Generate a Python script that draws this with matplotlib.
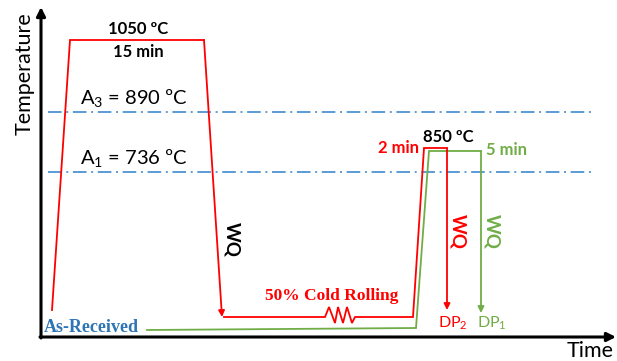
import matplotlib
matplotlib.use("Agg")
import matplotlib.pyplot as plt

plt.rcParams['font.family'] = ['Lato', 'DejaVu Sans']
plt.rcParams['mathtext.fontset'] = 'custom'
plt.rcParams['mathtext.rm'] = 'Lato'
plt.rcParams['mathtext.bf'] = 'Lato:bold'
plt.rcParams['mathtext.it'] = 'Lato:italic'

# Schematic data (time units, temperature level units)
# Red route: solution treatment -> WQ -> cold rolling -> 850 C 2 min -> WQ (DP2)
red_st_time = [52, 70, 204, 222]
red_st_temp = [51, 321, 321, 44]
red_cr_time = [224, 325, 329, 335, 338, 343, 347, 352, 355, 413, 424, 447, 447]
red_cr_temp = [44, 44, 54, 38, 54, 38, 54, 38, 44, 44, 213, 213, 51]
# Green route: as-received -> 850 C 5 min -> WQ (DP1)
green_time = [147, 416, 429, 481, 481]
green_temp = [31, 33, 210, 210, 48]
# Critical temperatures (A3, A1)
crit_levels = [249, 189]
crit_start, crit_end = 48, 594

RED = '#FF0000'
GREEN = '#70AD47'
BLUE = '#5B9BD5'
DARKBLUE = '#2E75B6'

fig = plt.figure(figsize=(6.17, 3.61), dpi=100)
ax = fig.add_axes([0, 0, 1, 1])
ax.set_xlim(0, 617)
ax.set_ylim(0, 361)
ax.axis('off')

def path_with_arrow(t, T, color, lw):
    ax.plot(t[:-1], T[:-1], color=color, lw=lw, solid_joinstyle='miter')
    ax.annotate('', xy=(t[-1], T[-1]), xytext=(t[-2], T[-2]),
                arrowprops=dict(arrowstyle='-|>', color=color, lw=lw,
                                mutation_scale=9, shrinkA=0, shrinkB=0))

# critical lines
for lev in crit_levels:
    ax.plot([crit_start, crit_end], [lev, lev], color=BLUE, lw=1.4,
            linestyle=(0, (7, 2.4, 1, 2.4)))

path_with_arrow(green_time, green_temp, GREEN, 1.3)
path_with_arrow(red_st_time, red_st_temp, RED, 1.3)
path_with_arrow(red_cr_time, red_cr_temp, RED, 1.3)

# axes arrows
ax.annotate('', xy=(41, 354), xytext=(41, 23),
            arrowprops=dict(arrowstyle='-|>', color='black', lw=2.2,
                            mutation_scale=13, shrinkA=0, shrinkB=0))
ax.annotate('', xy=(616, 24), xytext=(40, 24),
            arrowprops=dict(arrowstyle='-|>', color='black', lw=2.2,
                            mutation_scale=13, shrinkA=0, shrinkB=0))

ax.text(25, 287, 'Temperature', rotation=90, ha='center', va='center', fontsize=15.5)
ax.text(590, 4, 'Time', ha='center', va='baseline', fontsize=15.5)

ax.text(138, 327, '1050 ºC', ha='center', va='baseline', fontsize=12, fontweight='bold')
ax.text(138, 304, '15 min', ha='center', va='baseline', fontsize=12, fontweight='bold')
ax.text(134, 257, r'A$_3$ = 890 ºC', ha='center', va='baseline', fontsize=14.5)
ax.text(134, 197, r'A$_1$ = 736 ºC', ha='center', va='baseline', fontsize=14.5)

ax.text(232, 121, 'WQ', rotation=270, ha='center', va='center', fontsize=13.5, fontweight='bold')
ax.text(458, 130, 'WQ', rotation=270, ha='center', va='center', fontsize=13.5,
        fontweight='bold', color=RED)
ax.text(492, 130, 'WQ', rotation=270, ha='center', va='center', fontsize=13.5,
        fontweight='bold', color=GREEN)

ax.text(448, 219, '850 ºC', ha='center', va='baseline', fontsize=12, fontweight='bold')
ax.text(398, 208, '2 min', ha='center', va='baseline', fontsize=12, fontweight='bold', color=RED)
ax.text(506, 206, '5 min', ha='center', va='baseline', fontsize=12, fontweight='bold', color=GREEN)

ax.text(438, 33, r'DP$_2$', ha='left', va='baseline', fontsize=11.5, color=RED)
ax.text(477, 33, r'DP$_1$', ha='left', va='baseline', fontsize=11.5, color=GREEN)

ax.text(332, 61, '50% Cold Rolling', ha='center', va='baseline', fontsize=12.5,
        fontweight='bold', color=RED, family='Liberation Serif')
ax.text(91, 29, 'As-Received', ha='center', va='baseline', fontsize=13,
        fontweight='bold', color=DARKBLUE, family='Liberation Serif')

fig.savefig('out.png', dpi=100)
